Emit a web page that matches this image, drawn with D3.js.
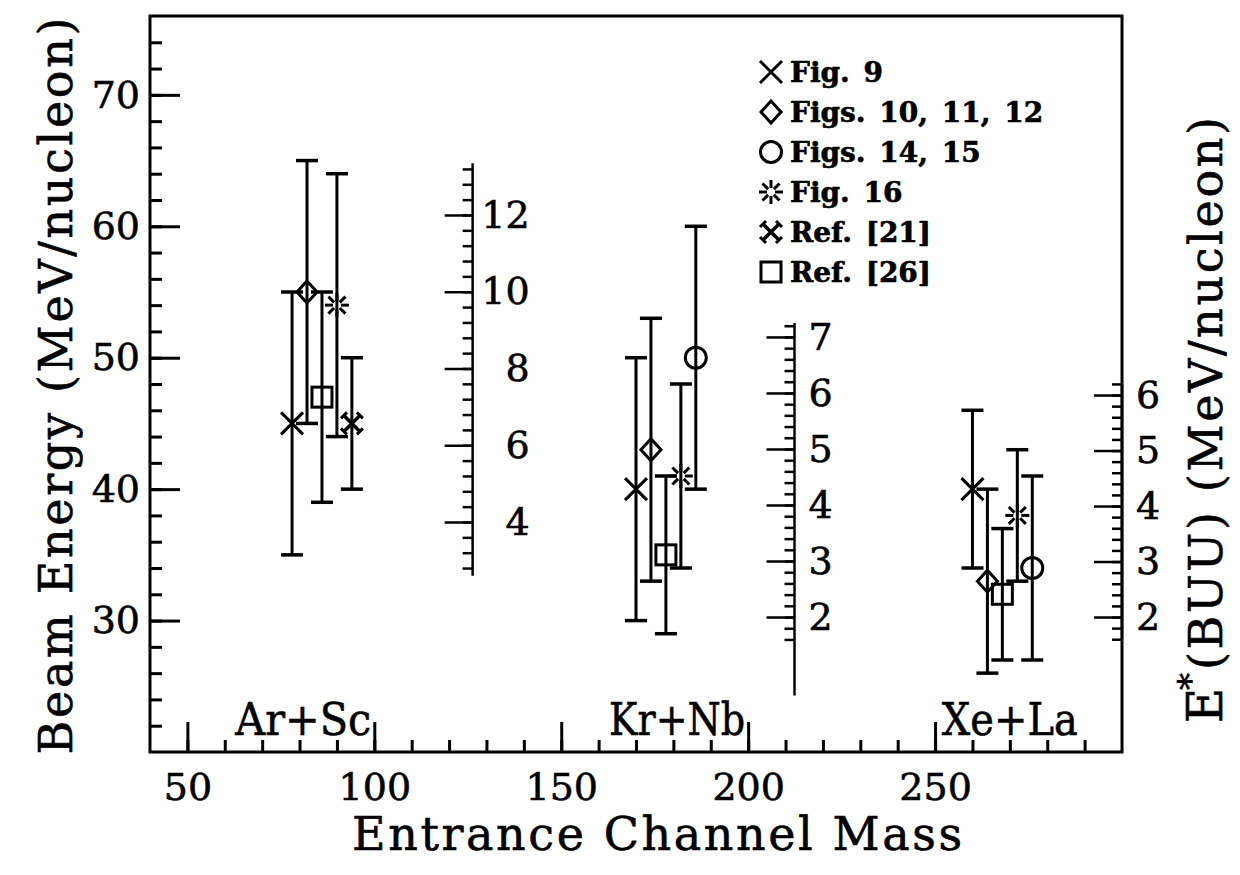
<!DOCTYPE html>
<html><head><meta charset="utf-8">
<script src="https://cdn.jsdelivr.net/npm/d3@7"></script>
<style>
body{margin:0;background:#fff}
text{font-family:"DejaVu Serif",serif;fill:#000;stroke:#000;stroke-width:0.6px}
</style>
</head><body>
<svg id="c" width="1240" height="875"></svg>
<script>
// ---------------- data ----------------
const xTickValues = [50, 100, 150, 200, 250];
const yTickValues = [30, 40, 50, 60, 70];
const groupNames = ["Ar+Sc", "Kr+Nb", "Xe+La"];
const groupCenters = [81, 181, 270];

const legendLabels = ["Fig. 9", "Figs. 10, 11, 12", "Figs. 14, 15", "Fig. 16", "Ref. [21]", "Ref. [26]"];
const legendSymbols = ["x", "diamond", "circle", "star", "xcross", "square"];

// Fig. 9
const fig9Mass = [78, 170, 260];
const fig9Val  = [45, 40, 40];
const fig9Lo   = [35, 30, 34];
const fig9Hi   = [55, 50, 46];
// Figs. 10, 11, 12
const fig10Mass = [82, 174, 264];
const fig10Val  = [55, 43, 33];
const fig10Lo   = [45, 33, 26];
const fig10Hi   = [65, 53, 40];
// Figs. 14, 15
const fig14Mass = [186, 276];
const fig14Val  = [50, 34];
const fig14Lo   = [40, 27];
const fig14Hi   = [60, 41];
// Fig. 16
const fig16Mass = [90, 182, 272];
const fig16Val  = [54, 41, 38];
const fig16Lo   = [44, 34, 33];
const fig16Hi   = [64, 48, 43];
// Ref. [21]
const ref21Mass = [94];
const ref21Val  = [45];
const ref21Lo   = [40];
const ref21Hi   = [50];
// Ref. [26]
const ref26Mass = [86, 178, 268];
const ref26Val  = [47, 35, 32];
const ref26Lo   = [39, 29, 27];
const ref26Hi   = [55, 41, 37];

// E*(BUU) secondary axes: calibration E* <-> beam energy
const buuAxisMass = [126.3, 212.4, 300];
const buuEstarCal = [[4, 12], [2, 7], [2, 6]];
const buuBeamCal  = [[37.5, 60.86], [30.27, 51.58], [30.27, 47.16]];
const buuMajorTicks = [[4, 6, 8, 10, 12], [2, 3, 4, 5, 6, 7], [2, 3, 4, 5, 6]];
const buuMinorStep = [0.4, 0.2, 0.2];
const buuTickRange = [[2.8, 13.2], [1.6, 7.2], [1.6, 6.2]];
const buuLineRange = [[2.6, 13.35], [0.6, 7.25], [1.6, 6.2]];

// ---------------- drawing ----------------
const svg = d3.select("#c");
const L = 150, R = 1122, T = 16, B = 752;
const x = d3.scaleLinear().domain([40, 300]).range([L, R]);
const y = d3.scaleLinear().domain([20, 76]).range([B, T]);

function styleAxis(g, fs) {
  g.select(".domain").remove();
  g.selectAll(".tick line").attr("stroke", "#000").attr("stroke-width", 3);
  g.selectAll(".tick text").attr("font-size", fs).attr("font-family", "DejaVu Serif").attr("fill", "#000");
}

// minor ticks left
const gYmin = svg.append("g").attr("transform", `translate(${L},0)`)
  .call(d3.axisLeft(y).tickValues(d3.range(22, 76, 2)).tickSize(-12).tickFormat(""));
styleAxis(gYmin, 38);
const gY = svg.append("g").attr("transform", `translate(${L},0)`)
  .call(d3.axisLeft(y).tickValues(yTickValues).tickSize(-30).tickPadding(10));
styleAxis(gY, 38);

const gXmin = svg.append("g").attr("transform", `translate(0,${B})`)
  .call(d3.axisBottom(x).tickValues(d3.range(50, 300, 10)).tickSize(-12).tickFormat(""));
styleAxis(gXmin, 38);
const gX = svg.append("g").attr("transform", `translate(0,${B})`)
  .call(d3.axisBottom(x).tickValues(xTickValues).tickSize(-30).tickPadding(21));
styleAxis(gX, 38);

// frame
svg.append("rect").attr("x", L).attr("y", T).attr("width", R - L).attr("height", B - T)
  .attr("fill", "none").attr("stroke", "#000").attr("stroke-width", 3);

// secondary E*(BUU) axes
buuAxisMass.forEach((m, i) => {
  const s = d3.scaleLinear().domain(buuEstarCal[i]).range(buuBeamCal[i].map(y));
  const ax = x(m);
  const g = svg.append("g");
  g.append("line").attr("x1", ax).attr("x2", ax)
    .attr("y1", s(buuLineRange[i][0])).attr("y2", s(buuLineRange[i][1]))
    .attr("stroke", "#000").attr("stroke-width", 2.5);
  const minors = d3.range(buuTickRange[i][0], buuTickRange[i][1] + 1e-6, buuMinorStep[i]);
  const gm = g.append("g").attr("transform", `translate(${ax},0)`)
    .call(d3.axisRight(s).tickValues(minors).tickSize(-10).tickFormat(""));
  gm.select(".domain").remove();
  gm.selectAll(".tick line").attr("stroke", "#000").attr("stroke-width", 2.5);
  const gM = g.append("g").attr("transform", `translate(${ax},0)`)
    .call(d3.axisRight(s).tickValues(buuMajorTicks[i]).tickFormat(d3.format("d"))
      .tickSize(-28).tickPadding(i === 0 ? 57 : 14));
  gM.select(".domain").remove();
  gM.selectAll(".tick line").attr("stroke", "#000").attr("stroke-width", 2.5);
  gM.selectAll(".tick text").attr("font-size", 38).attr("font-family", "DejaVu Serif").attr("fill", "#000")
    .attr("text-anchor", i === 0 ? "end" : "start");
});

// symbols
function drawSymbol(g, type, cx, cy) {
  const s = g.append("g").attr("transform", `translate(${cx},${cy})`)
    .attr("fill", "none").attr("stroke", "#000").attr("stroke-width", 3);
  if (type === "x") {
    s.append("path").attr("d", "M-11,-11L11,11M-11,11L11,-11");
  } else if (type === "diamond") {
    s.append("path").attr("d", "M0,-11L10,0L0,11L-10,0Z");
  } else if (type === "circle") {
    s.append("circle").attr("r", 10.5);
  } else if (type === "square") {
    s.append("rect").attr("x", -10).attr("y", -10).attr("width", 20).attr("height", 20);
  } else if (type === "star") {
    d3.range(8).forEach(k => {
      const a = k * Math.PI / 4;
      s.append("line").attr("x1", 4 * Math.cos(a)).attr("y1", 4 * Math.sin(a))
        .attr("x2", 12 * Math.cos(a)).attr("y2", 12 * Math.sin(a)).attr("stroke-width", 3);
    });
  } else if (type === "xcross") {
    s.append("path").attr("d", "M-8,-8L8,8M-8,8L8,-8").attr("stroke-width", 3.5);
    s.append("path").attr("d", "M-11,-5L-5,-11M5,-11L11,-5M11,5L5,11M-5,11L-11,5").attr("stroke-width", 3);
  }
}

const seriesList = [
  [fig9Mass, fig9Val, fig9Lo, fig9Hi],
  [fig10Mass, fig10Val, fig10Lo, fig10Hi],
  [fig14Mass, fig14Val, fig14Lo, fig14Hi],
  [fig16Mass, fig16Val, fig16Lo, fig16Hi],
  [ref21Mass, ref21Val, ref21Lo, ref21Hi],
  [ref26Mass, ref26Val, ref26Lo, ref26Hi]
];
const gData = svg.append("g");
seriesList.forEach((ser, si) => {
  const [mass, val, lo, hi] = ser;
  mass.forEach((m, j) => {
    const cx = x(m);
    gData.append("line").attr("x1", cx).attr("x2", cx).attr("y1", y(lo[j])).attr("y2", y(hi[j]))
      .attr("stroke", "#000").attr("stroke-width", 3);
    [lo[j], hi[j]].forEach(v => {
      gData.append("line").attr("x1", cx - 11).attr("x2", cx + 11).attr("y1", y(v)).attr("y2", y(v))
        .attr("stroke", "#000").attr("stroke-width", 3.5);
    });
    drawSymbol(gData, legendSymbols[si], cx, y(val[j]));
  });
});

// group labels
groupNames.forEach((n, i) => {
  svg.append("text").attr("x", x(groupCenters[i])).attr("y", 735).attr("text-anchor", "middle")
    .attr("font-size", 44).attr("textLength", 136).attr("lengthAdjust", "spacingAndGlyphs").text(n);
});

// legend
const gLeg = svg.append("g");
legendLabels.forEach((lab, i) => {
  const yy = 72 + i * 40;
  drawSymbol(gLeg, legendSymbols[i], 771, yy);
  gLeg.append("text").attr("x", 790).attr("y", yy + 10).attr("font-size", 28)
    .attr("font-weight", "bold").attr("word-spacing", 4).text(lab);
});

// axis titles
svg.append("text").attr("x", 657).attr("y", 850).attr("text-anchor", "middle")
  .attr("font-size", 46).attr("textLength", 610).attr("lengthAdjust", "spacing")
  .text("Entrance Channel Mass");

svg.append("text").attr("transform", "translate(72,386) rotate(-90)").attr("text-anchor", "middle")
  .attr("font-size", 46).attr("textLength", 737).attr("lengthAdjust", "spacing")
  .text("Beam Energy (MeV/nucleon)");

const gRT = svg.append("g").attr("transform", "translate(1222,723) rotate(-90)");
gRT.append("text").attr("x", 0).attr("y", 0).attr("font-size", 48).text("E");
gRT.append("text").attr("x", 33).attr("y", -20).attr("font-size", 34).text("*");
gRT.append("text").attr("x", 53).attr("y", 0).attr("font-size", 46)
  .attr("textLength", 553).attr("lengthAdjust", "spacing").text("(BUU) (MeV/nucleon)");
</script>
</body></html>
